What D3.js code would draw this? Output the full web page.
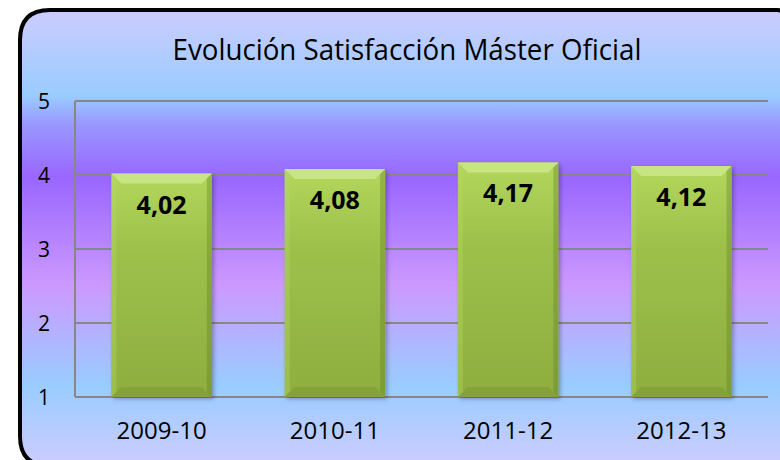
<!DOCTYPE html>
<html lang="es">
<head>
<meta charset="UTF-8">
<title>Evolución Satisfacción Máster Oficial</title>
<script src="https://d3js.org/d3.v7.min.js"></script>
<style>
  body { margin: 0; background: #fff; overflow: hidden; }
  text { font-family: "Open Sans", "Noto Sans", sans-serif; fill: #000; }
</style>
</head>
<body>
<div id="chart"></div>
<script>
// data
const cursos = ["2009-10", "2010-11", "2011-12", "2012-13"];
const valores = [4.02, 4.08, 4.17, 4.12];
const etiquetas = ["4,02", "4,08", "4,17", "4,12"];
const yTicks = [1, 2, 3, 4, 5];
const titulo = "Evolución Satisfacción Máster Oficial";

const W = 780, H = 460;
const plot = { left: 75, right: 768, top: 101, bottom: 397 };

const svg = d3.select("#chart").append("svg")
  .attr("width", W).attr("height", H)
  .style("display", "block");

const defs = svg.append("defs");

// chart area background gradient
const bg = defs.append("linearGradient").attr("id", "bg")
  .attr("gradientUnits", "userSpaceOnUse")
  .attr("x1", 0).attr("y1", 10).attr("x2", 0).attr("y2", 462);
[[0, "#ccccff"], [0.19, "#99ccff"], [0.25, "#9999ff"], [0.37, "#9966ff"],
 [0.61, "#cc99ff"], [0.83, "#99ccff"], [1, "#ccccff"]]
  .forEach(([o, c]) => bg.append("stop").attr("offset", o).attr("stop-color", c));

const barGrad = defs.append("linearGradient").attr("id", "barGrad")
  .attr("x1", 0).attr("y1", 0).attr("x2", 0).attr("y2", 1);
barGrad.append("stop").attr("offset", 0).attr("stop-color", "#b3d65c");
barGrad.append("stop").attr("offset", 0.35).attr("stop-color", "#9dc04a");
barGrad.append("stop").attr("offset", 1).attr("stop-color", "#8eae40");

const shadow = defs.append("filter").attr("id", "shadow")
  .attr("x", "-10%").attr("y", "-10%").attr("width", "130%").attr("height", "130%");
shadow.append("feDropShadow").attr("dx", 2).attr("dy", 2)
  .attr("stdDeviation", 2).attr("flood-color", "#000").attr("flood-opacity", 0.3);

// frame: rounded on the left, right and bottom edges run off the picture
const fx0 = 20, fy0 = 10, fx1 = 784, fy1 = 466, r = 30, r2 = 7;
const framePath = `M${fx0 + r},${fy0} L${fx1 - r2},${fy0} Q${fx1},${fy0} ${fx1},${fy0 + r2}
  L${fx1},${fy1} L${fx0 + r},${fy1} Q${fx0},${fy1} ${fx0},${fy1 - r}
  L${fx0},${fy0 + r} Q${fx0},${fy0} ${fx0 + r},${fy0} Z`;
svg.append("path").attr("d", framePath).attr("fill", "url(#bg)")
  .attr("stroke", "#000").attr("stroke-width", 4);

// scales
const x = d3.scaleBand().domain(cursos)
  .range([plot.left, plot.right]).paddingInner(0.42).paddingOuter(0.21);
const y = d3.scaleLinear().domain([1, 5]).range([plot.bottom, plot.top]);

// grid
svg.append("g").selectAll("line").data(yTicks).join("line")
  .attr("x1", plot.left).attr("x2", plot.right)
  .attr("y1", d => y(d)).attr("y2", d => y(d))
  .attr("stroke", "#878787").attr("stroke-width", 2);
svg.append("line")
  .attr("x1", plot.left).attr("x2", plot.left)
  .attr("y1", y(5)).attr("y2", y(1))
  .attr("stroke", "#878787").attr("stroke-width", 2);

// bars with a bevel
const bev = 10;
const bw = x.bandwidth();
const bars = svg.append("g").selectAll("g").data(cursos).join("g")
  .attr("transform", (d, i) => `translate(${x(d)},${y(valores[i])})`);
const alto = i => y(1) - y(valores[i]);

bars.append("rect")
  .attr("width", bw)
  .attr("height", (d, i) => alto(i))
  .attr("fill", "url(#barGrad)")
  .attr("filter", "url(#shadow)");

// top bevel
bars.append("path")
  .attr("d", `M0,0 L${bw},0 L${bw - bev},${bev} L${bev},${bev} Z`)
  .attr("fill", "#cbe88a").attr("opacity", 0.85);
// left bevel
bars.append("path")
  .attr("d", (d, i) => `M0,0 L${bev / 2},${bev / 2} L${bev / 2},${alto(i) - bev / 2} L0,${alto(i)} Z`)
  .attr("fill", "#b8db66").attr("opacity", 0.35);
// right bevel
bars.append("path")
  .attr("d", (d, i) => `M${bw},0 L${bw - bev / 2},${bev / 2} L${bw - bev / 2},${alto(i) - bev / 2} L${bw},${alto(i)} Z`)
  .attr("fill", "#5f7a22").attr("opacity", 0.35);
// bottom bevel
bars.append("path")
  .attr("d", (d, i) => `M0,${alto(i)} L${bev},${alto(i) - bev} L${bw - bev},${alto(i) - bev} L${bw},${alto(i)} Z`)
  .attr("fill", "#7d9a33").attr("opacity", 0.6);

// value labels
bars.append("text")
  .attr("x", bw / 2).attr("y", 40)
  .attr("text-anchor", "middle")
  .attr("font-size", 25).attr("font-weight", "bold")
  .text((d, i) => etiquetas[i]);

// y tick labels
svg.append("g").selectAll("text").data(yTicks).join("text")
  .attr("x", 44).attr("y", d => y(d)).attr("dy", "0.36em")
  .attr("text-anchor", "middle").attr("font-size", 21)
  .text(d => d);

// x labels
svg.append("g").selectAll("text").data(cursos).join("text")
  .attr("x", d => x(d) + bw / 2).attr("y", 439)
  .attr("text-anchor", "middle").attr("font-size", 24)
  .text(d => d);

// title
const t = svg.append("text")
  .attr("x", 407).attr("y", 60)
  .attr("text-anchor", "middle").attr("font-size", 29)
  .text(titulo);
if (t.node().getComputedTextLength() > 470) {
  t.attr("textLength", 469).attr("lengthAdjust", "spacingAndGlyphs");
}
</script>
</body>
</html>
